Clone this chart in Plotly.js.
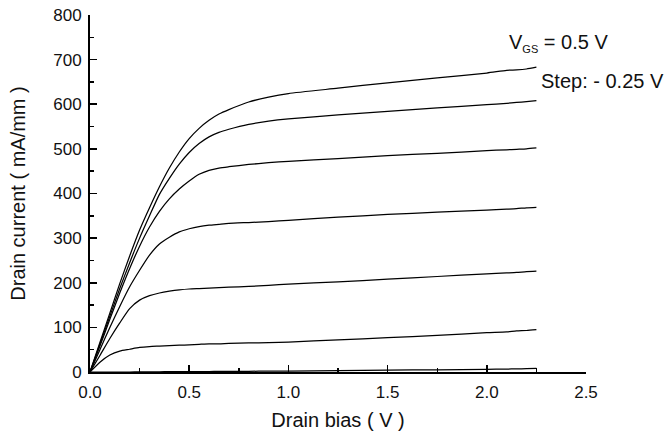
<!DOCTYPE html>
<html>
<head>
<meta charset="utf-8">
<script src="https://cdn.plot.ly/plotly-3.0.1.min.js"></script>
<style>
  html, body { margin: 0; padding: 0; background: #fff; }
  #chart { width: 668px; height: 435px; }
</style>
</head>
<body>
<div id="chart"></div>
<script>
// Drain bias sweep (V)
const drainBias = [0, 0.05, 0.1, 0.15, 0.2, 0.25, 0.3, 0.35, 0.4, 0.45, 0.5, 0.55, 0.6, 0.65, 0.7,
                   0.8, 0.9, 1.0, 1.25, 1.5, 1.75, 2.0, 2.1, 2.15, 2.2, 2.25];

// Drain current (mA/mm) for each gate bias, V_GS from 0.5 V down in -0.25 V steps
const id_p050 = [0, 66, 132, 198, 260, 318, 368, 415, 457, 493, 523, 546, 564, 578, 588,
                 605, 616, 624, 636, 648, 659, 670, 676, 677, 679, 683];
const id_p025 = [0, 62, 125, 187, 245, 300, 350, 398, 434, 466, 492, 512, 527, 537, 544,
                 555, 562, 567, 576, 584, 592, 599, 602, 604, 606, 608];
const id_p000 = [0, 58, 118, 177, 232, 282, 325, 360, 388, 410, 428, 443, 452, 457, 460,
                 465, 469, 472, 478, 485, 490, 496, 498, 499, 500, 502];
const id_m025 = [0, 50, 100, 147, 191, 228, 262, 287, 302, 314, 321, 326, 329, 331, 333,
                 335, 337, 340, 347, 353, 358, 363, 365, 366, 368, 369];
const id_m050 = [0, 37, 75, 110, 142, 161, 171, 177, 181, 184, 186, 187, 188, 189, 190,
                 192, 194, 197, 202, 208, 214, 220, 222, 223, 225, 226];
const id_m075 = [0, 22, 38, 47, 51, 55, 57, 58, 59, 60, 61, 62, 63, 63, 64,
                 65, 66, 67, 72, 77, 82, 88, 90, 92, 93, 95];
const id_m100 = [0, 0, 0, 0, 0, 0.5, 0.5, 0.5, 1, 1, 1, 1, 1, 1.5, 1.5,
                 1.5, 2, 2, 3, 4, 5, 6, 6.5, 7, 7.5, 8];

const curves = [id_p050, id_p025, id_p000, id_m025, id_m050, id_m075, id_m100];
const gateLabels = ['0.5 V', '0.25 V', '0 V', '-0.25 V', '-0.5 V', '-0.75 V', '-1.0 V'];

const FONT = 'Arial, "Liberation Sans", sans-serif';

const traces = curves.map((ys, i) => ({
  x: drainBias,
  y: ys,
  type: 'scatter',
  mode: 'lines',
  name: 'V<sub>GS</sub> = ' + gateLabels[i],
  line: { color: '#000', width: 1.25, shape: 'spline', smoothing: 0.6 },
  hoverinfo: 'x+y'
}));

const axisCommon = {
  showline: true,
  linecolor: '#000',
  linewidth: 2,
  mirror: false,
  showgrid: false,
  zeroline: false,
  ticks: 'inside',
  ticklen: 7,
  tickwidth: 1.6,
  tickcolor: '#000',
  tickfont: { family: FONT, size: 17, color: '#111' },
  fixedrange: true
};

const layout = {
  width: 668,
  height: 435,
  margin: { l: 90, r: 82, t: 15, b: 63 },
  paper_bgcolor: '#fff',
  plot_bgcolor: '#fff',
  showlegend: false,
  font: { family: FONT, color: '#111' },
  xaxis: Object.assign({}, axisCommon, {
    range: [0, 2.5],
    tick0: 0,
    dtick: 0.5,
    tickformat: '.1f',
    ticklabelstandoff: 4,
    minor: { dtick: 0.25, ticks: 'inside', ticklen: 4, tickwidth: 1.4, tickcolor: '#000', showgrid: false },
    title: { text: 'Drain bias ( V )', font: { family: FONT, size: 20, color: '#111' }, standoff: 12 }
  }),
  yaxis: Object.assign({}, axisCommon, {
    range: [0, 800],
    tick0: 0,
    dtick: 100,
    ticklabelstandoff: 3,
    minor: { dtick: 50, ticks: 'inside', ticklen: 4, tickwidth: 1.4, tickcolor: '#000', showgrid: false },
    title: { text: 'Drain current ( mA/mm )', font: { family: FONT, size: 20, color: '#111' }, standoff: 22 }
  }),
  annotations: [
    {
      x: 2.102, y: 738, xref: 'x', yref: 'y',
      xanchor: 'left', yanchor: 'middle',
      text: 'V<sub><span style="font-size:11px">GS</span></sub> = 0.5 V',
      showarrow: false,
      font: { family: FONT, size: 20, color: '#111' }
    },
    {
      x: 2.263, y: 651, xref: 'x', yref: 'y',
      xanchor: 'left', yanchor: 'middle',
      text: 'Step: - 0.25 V',
      showarrow: false,
      font: { family: FONT, size: 20, color: '#111' }
    }
  ]
};

Plotly.newPlot('chart', traces, layout, { displayModeBar: false, staticPlot: true });
</script>
</body>
</html>
